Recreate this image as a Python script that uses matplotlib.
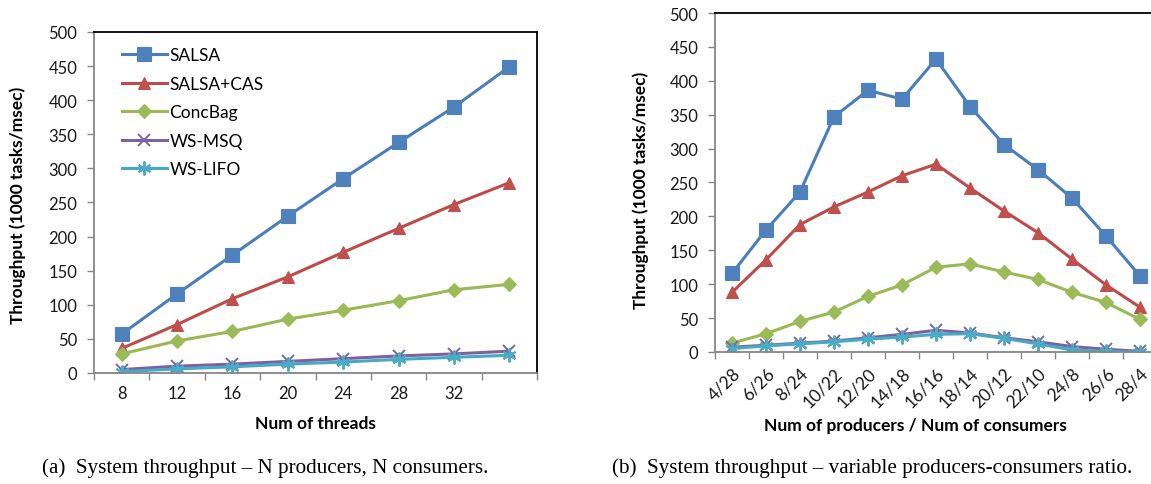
import matplotlib
matplotlib.use("Agg")
import matplotlib.pyplot as plt
from matplotlib.ticker import FixedLocator, NullFormatter

# --- data -------------------------------------------------------------
series_names = ["SALSA", "SALSA+CAS", "ConcBag", "WS-MSQ", "WS-LIFO"]

threads = ["8", "12", "16", "20", "24", "28", "32", ""]
salsa_a = [57, 116, 173, 230, 285, 338, 390, 449]
salsa_cas_a = [36, 71, 109, 141, 177, 212, 247, 279]
concbag_a = [28, 47, 61, 79, 92, 106, 122, 130]
wsmsq_a = [5, 10, 13, 17, 21, 25, 28, 32]
wslifo_a = [2, 6, 9, 13, 16, 20, 23, 26]

ratios = ["4/28", "6/26", "8/24", "10/22", "12/20", "14/18", "16/16",
          "18/14", "20/12", "22/10", "24/8", "26/6", "28/4"]
salsa_b = [116, 180, 236, 347, 386, 373, 432, 362, 306, 269, 227, 171, 112]
salsa_cas_b = [88, 136, 188, 214, 236, 260, 277, 242, 208, 176, 137, 99, 66]
concbag_b = [13, 27, 45, 59, 82, 99, 125, 130, 118, 107, 88, 73, 48]
wsmsq_b = [7, 10, 13, 16, 21, 26, 32, 28, 21, 15, 8, 4, 1]
wslifo_b = [5, 9, 12, 15, 19, 22, 26, 27, 20, 12, 3, 1, 0]

# --- styles -----------------------------------------------------------
line_colors = ["#4A7EBB", "#BE4B48", "#98B954", "#7D60A0", "#46AAC5"]
marker_colors = ["#4F81BD", "#C0504D", "#9BBB59", "#8064A2", "#4BACC6"]
markers = ["s", "^", "D", "x", (6, 2, 0)]
msizes = [10, 9, 7, 9, 10]

tick_font = "Lato"
serif = "Liberation Serif"
axis_grey = "#868686"

fig = plt.figure(figsize=(11.51, 4.85), dpi=100)
ax_a = fig.add_axes([0.0817, 0.2289, 0.3849, 0.7031])
ax_b = fig.add_axes([0.6212, 0.2722, 0.3840, 0.6989])


def draw_series(ax, data):
    for i, vals in enumerate(data):
        ax.plot(range(len(vals)), vals, color=line_colors[i], lw=2.2,
                marker=markers[i], ms=msizes[i], mfc=marker_colors[i],
                mec=marker_colors[i], mew=1.4 if i >= 3 else 0.8,
                label=series_names[i])


def style_axes(ax, labels, rotate=False):
    n = len(labels)
    ax.set_xlim(-0.5, n - 0.5)
    ax.set_ylim(0, 500)
    ax.set_yticks(range(0, 501, 50))
    # tick marks at category boundaries, labels in the middle
    ax.xaxis.set_major_locator(FixedLocator([k - 0.5 for k in range(n + 1)]))
    ax.xaxis.set_major_formatter(NullFormatter())
    ax.xaxis.set_minor_locator(FixedLocator(list(range(n))))
    ax.set_xticklabels(labels, minor=True)
    ax.tick_params(axis="x", which="major", direction="out", length=5,
                   color=axis_grey, width=1)
    ax.tick_params(axis="x", which="minor", length=0, pad=9)
    ax.tick_params(axis="y", direction="out", length=5, color=axis_grey,
                   width=1, pad=7)
    for lab in ax.get_xticklabels(minor=True) + ax.get_yticklabels():
        lab.set_fontfamily(tick_font)
        lab.set_fontsize(12)
        lab.set_color("#1a1a1a")
    if rotate:
        for lab in ax.get_xticklabels(minor=True):
            lab.set_rotation(45)
            lab.set_ha("right")
            lab.set_rotation_mode("anchor")
            lab.set_fontsize(12.5)
        ax.tick_params(axis="x", which="minor", pad=9)
    for side in ("left", "bottom"):
        ax.spines[side].set_color(axis_grey)
        ax.spines[side].set_linewidth(1.3)
    for side in ("top", "right"):
        ax.spines[side].set_color("black")
        ax.spines[side].set_linewidth(1.3)


draw_series(ax_a, [salsa_a, salsa_cas_a, concbag_a, wsmsq_a, wslifo_a])
draw_series(ax_b, [salsa_b, salsa_cas_b, concbag_b, wsmsq_b, wslifo_b])
style_axes(ax_a, threads)
style_axes(ax_b, ratios, rotate=True)

lbl = dict(fontfamily=tick_font, fontsize=12.5, fontweight="bold")
ax_a.set_xlabel("Num of threads", labelpad=10, **lbl)
ax_b.set_xlabel("Num of producers / Num of consumers", labelpad=5, **lbl)
fig.text(18 / 1151, 1 - 205 / 485, "Throughput (1000 tasks/msec)",
         rotation=90, ha="center", va="center", **lbl)
fig.text(641 / 1151, 1 - 190 / 485, "Throughput (1000 tasks/msec)",
         rotation=90, ha="center", va="center", **lbl)
ax_b.xaxis.label.set_x((915 - 715) / 442)

leg = ax_a.legend(loc="upper left", bbox_to_anchor=(0.062, 0.955),
                  frameon=False, borderpad=0, borderaxespad=0,
                  handlelength=2.6, handletextpad=0.15, labelspacing=0.72,
                  prop={"family": tick_font, "size": 12.5})

fig.text(265 / 1151, 1 - 468 / 485,
         "(a)  System throughput \u2013 N producers, N consumers.",
         ha="center", va="center", fontfamily=serif, fontsize=15.2)
fig.text(872 / 1151, 1 - 468 / 485,
         "(b)  System throughput \u2013 variable producers-consumers ratio.",
         ha="center", va="center", fontfamily=serif, fontsize=15.2)

fig.savefig("out.png", dpi=100)
